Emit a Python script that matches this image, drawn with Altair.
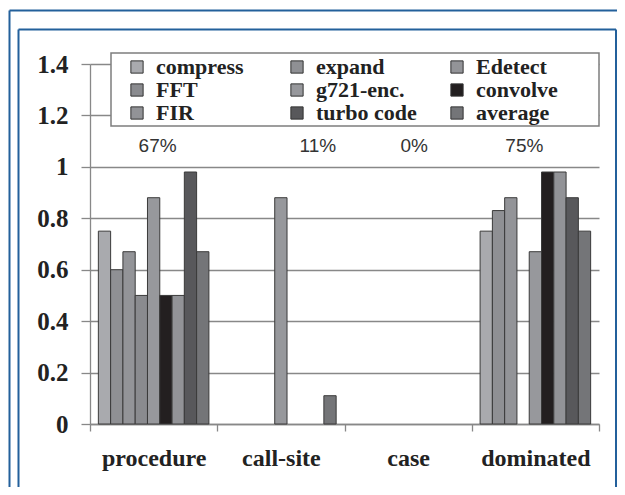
import altair as alt
import pandas as pd

categories = ["procedure", "call-site", "case", "dominated"]
series = ["compress", "expand", "Edetect", "FFT", "g721-enc.", "convolve",
          "FIR", "turbo code", "average"]
colors = ["#a9aaae", "#8f9094", "#939498", "#8a8b8f", "#97989c", "#231f20",
          "#929397", "#58585b", "#747578"]
procedure = [0.75, 0.60, 0.67, 0.50, 0.88, 0.50, 0.50, 0.98, 0.67]
call_site = [0, 0, 0, 0, 0.88, 0, 0, 0, 0.11]
case = [0, 0, 0, 0, 0, 0, 0, 0, 0]
dominated = [0.75, 0.83, 0.88, 0, 0.67, 0.98, 0.98, 0.88, 0.75]
pct_labels = ["67%", "11%", "0%", "75%"]
pct_shift = [4, 37, 6, -11]
y_ticks = [0, 0.2, 0.4, 0.6, 0.8, 1.0, 1.2, 1.4]

rows = []
for cat, vals in zip(categories, [procedure, call_site, case, dominated]):
    for s, v in zip(series, vals):
        rows.append({"category": cat, "series": s, "value": v})
df = pd.DataFrame(rows)

W, H = 509, 360
FONT = "'Liberation Serif', 'Liberation Sans', sans-serif"
BLUE = "#23609b"

xenc = alt.X("category:N", sort=categories,
             scale=alt.Scale(domain=categories, paddingInner=0, paddingOuter=0),
             axis=alt.Axis(title=None, tickBand="extent", labelAngle=0,
                           labelFont=FONT, labelFontWeight="bold",
                           labelFontSize=24, labelColor="#222",
                           labelBaseline="alphabetic", labelPadding=34,
                           tickSize=7, tickColor="#888", domainColor="#888",
                           domainWidth=1.3, tickWidth=1.3, grid=False))
yenc = alt.Y("value:Q", scale=alt.Scale(domain=[0, 1.4], nice=False),
             axis=alt.Axis(title=None, values=y_ticks, format=".1~f",
                           labelFont=FONT, labelFontWeight="bold",
                           labelFontSize=25, labelColor="#222",
                           tickSize=9, labelPadding=13, tickColor="#888",
                           domainColor="#888", domainWidth=1.3, tickWidth=1.3,
                           grid=True, gridColor="#888", gridWidth=1.3))

bars = alt.Chart(df).transform_filter(alt.datum.value > 0).mark_bar(
    stroke="#3a3a3a", strokeWidth=1
).encode(
    x=xenc,
    y=yenc,
    xOffset=alt.XOffset("series:N",
                        scale=alt.Scale(domain=series, paddingInner=0,
                                        paddingOuter=0.68)),
    color=alt.Color("series:N",
                    scale=alt.Scale(domain=series, range=colors),
                    legend=alt.Legend(title=None, orient="none",
                                      direction="horizontal",
                                      legendX=21, legendY=-11,
                                      columns=3, gridAlign="all",
                                      symbolType="square", symbolSize=150,
                                      symbolStrokeColor="#333",
                                      symbolStrokeWidth=1,
                                      symbolOffset=12, labelOffset=8,
                                      labelFont=FONT, labelFontWeight="bold",
                                      labelFontSize=22, labelColor="#222",
                                      rowPadding=1, columnPadding=17,
                                      padding=3)),
)

frame_df = pd.DataFrame({"k": [0]})
legend_box = alt.Chart(frame_df).mark_rect(
    fill="white", stroke="#7d7d7d", strokeWidth=1.5
).encode(x=alt.value(21), x2=alt.value(509), y=alt.value(-11), y2=alt.value(62))

def rule(x1, x2, y1, y2):
    return alt.Chart(frame_df).mark_rule(color=BLUE, strokeWidth=2).encode(
        x=alt.value(x1), x2=alt.value(x2), y=alt.value(y1), y2=alt.value(y2))

frames = [
    rule(-80.5, 527, -53.5, -53.5),
    rule(-80.5, -80.5, -53.5, 423),
    rule(-71.5, 526, -34.5, -34.5),
    rule(-71.5, -71.5, -34.5, 423),
    rule(526, 526, -34.5, 423),
]

pct_layers = []
for cat, lab, sh in zip(categories, pct_labels, pct_shift):
    pct_layers.append(
        alt.Chart(pd.DataFrame({"category": [cat], "label": [lab]})).mark_text(
            font="Liberation Sans", fontSize=19, color="#333", dx=sh,
            baseline="middle"
        ).encode(x=alt.X("category:N", sort=categories), y=alt.datum(1.08),
                 text="label:N")
    )

chart = alt.layer(bars, legend_box, *pct_layers, *frames).properties(
    width=W, height=H,
    autosize=alt.AutoSizeParams(type="none"),
    padding={"left": 82, "top": 56, "right": 18, "bottom": 63},
    background="white",
).configure_view(stroke=None)

chart.save("out.html", embed_options={"renderer": "svg", "actions": False})
